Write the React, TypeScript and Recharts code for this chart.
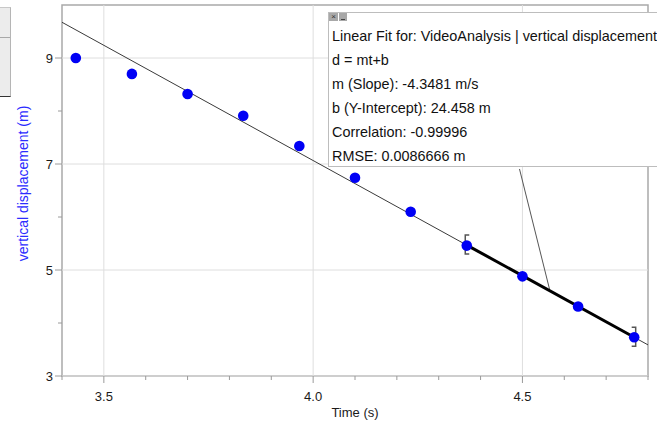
import React from "react";
import {
  ComposedChart,
  Scatter,
  XAxis,
  YAxis,
  ReferenceLine,
  ReferenceArea,
} from "recharts";

// measured positions (s) and vertical displacement (m)
const timeValues = [3.433, 3.567, 3.7, 3.833, 3.967, 4.1, 4.233, 4.367, 4.5, 4.633, 4.767];
const displacementValues = [9.0, 8.7, 8.32, 7.91, 7.34, 6.74, 6.1, 5.46, 4.88, 4.31, 3.73];

// linear fit line across the whole graph, and the fitted range
const fitLineT = [3.4, 4.8];
const fitLineD = [9.674, 3.587];
const fitRangeT = [4.367, 4.767];
const fitRangeD = [5.47, 3.73];

// leader from the fit box down to the line
const leaderT = [4.493, 4.565];
const leaderD = [6.906, 4.63];

const xTicks = [3.4, 3.5, 3.6, 3.7, 3.8, 3.9, 4.0, 4.1, 4.2, 4.3, 4.4, 4.5, 4.6, 4.7, 4.8];
const xMajor = [3.5, 4.0, 4.5];
const yTicks = [3, 4, 5, 6, 7, 8, 9];
const yMajor = [3, 5, 7, 9];

const fitLines = [
  "Linear Fit for: VideoAnalysis | vertical displacement",
  "d = mt+b",
  "m (Slope): -4.3481 m/s",
  "b (Y-Intercept): 24.458 m",
  "Correlation: -0.99996",
  "RMSE: 0.0086666 m",
];

const FONT = '"Liberation Sans", Arial, Helvetica, sans-serif';

const points = timeValues.map((t, i) => ({ t, d: displacementValues[i] }));
const fitLine = fitLineT.map((t, i) => ({ t, d: fitLineD[i] }));
const fitRange = fitRangeT.map((t, i) => ({ t, d: fitRangeD[i], side: i === 0 ? "left" : "right" }));

const near = (list: number[], v: number) => list.some((m) => Math.abs(m - v) < 1e-6);

const XTick = (props: any) => {
  const { x, y, payload } = props;
  const major = near(xMajor, payload.value);
  return (
    <g>
      <line x1={x} x2={x} y1={y} y2={y + (major ? 7 : 4)} stroke="#9a9a9a" strokeWidth={1} />
      {major && (
        <text x={x} y={y + 25} textAnchor="middle" fontSize={13} fill="#1a1a1a" fontFamily={FONT}>
          {payload.value.toFixed(1)}
        </text>
      )}
    </g>
  );
};

const YTick = (props: any) => {
  const { x, y, payload } = props;
  const major = near(yMajor, payload.value);
  return (
    <g>
      <line x1={x - (major ? 7 : 4)} x2={x} y1={y} y2={y} stroke="#9a9a9a" strokeWidth={1} />
      {major && (
        <text x={x - 9} y={y + 4.5} textAnchor="end" fontSize={13} fill="#1a1a1a" fontFamily={FONT}>
          {payload.value}
        </text>
      )}
    </g>
  );
};

const Dot = (props: any) => <circle cx={props.cx} cy={props.cy} r={5.3} fill="#0000f5" />;

const Bracket = (props: any) => {
  const { cx, cy, payload } = props;
  const left = payload.side === "left";
  const vx = left ? cx - 1.5 : cx + 1.5;
  const ex = left ? vx + 4 : vx - 4;
  return (
    <path
      d={`M${ex},${cy - 10} L${vx},${cy - 10} L${vx},${cy + 9} L${ex},${cy + 9}`}
      fill="none"
      stroke="#555"
      strokeWidth={1.5}
    />
  );
};

const NoShape = () => <g />;

export default function App() {
  return (
    <div
      style={{
        position: "absolute",
        left: 0,
        top: 0,
        width: 657,
        height: 423,
        overflow: "hidden",
        background: "#fff",
        fontFamily: FONT,
      }}
    >
      {/* side panel at the left edge */}
      <div
        style={{
          position: "absolute",
          left: 0,
          top: 7,
          width: 10,
          height: 88,
          background: "#ececec",
          borderTop: "1px solid #c8c8c8",
          borderRight: "1px solid #b5b5b5",
          borderBottom: "1.5px solid #333",
        }}
      >
        <div style={{ position: "absolute", left: 0, top: 29, width: 10, height: 1, background: "#a8a8a8" }} />
      </div>

      <ComposedChart width={657} height={423} margin={{ top: 5, right: 9, bottom: 0, left: 0 }}>
        <XAxis
          type="number"
          dataKey="t"
          domain={[3.4, 4.8]}
          ticks={xTicks}
          interval={0}
          allowDataOverflow
          height={47}
          tickSize={0}
          tickMargin={0}
          tickLine={false}
          axisLine={false}
          tick={<XTick />}
          label={{
            content: (p: any) => {
              const vb = p.viewBox;
              return (
                <text x={vb.x + vb.width / 2} y={vb.y + 41} textAnchor="middle" fontSize={13} fill="#1a1a1a" fontFamily={FONT}>
                  Time (s)
                </text>
              );
            },
          }}
        />
        <YAxis
          type="number"
          dataKey="d"
          domain={[3, 10]}
          ticks={yTicks}
          interval={0}
          allowDataOverflow
          width={62}
          tickSize={0}
          tickMargin={0}
          tickLine={false}
          axisLine={false}
          tick={<YTick />}
          label={{
            content: (p: any) => {
              const vb = p.viewBox;
              const cx = vb.x + 23;
              const cy = vb.y + vb.height / 2 - 7;
              return (
                <text
                  x={cx}
                  y={cy}
                  transform={`rotate(-90, ${cx}, ${cy})`}
                  textAnchor="middle"
                  dominantBaseline="central"
                  fontSize={14}
                  fill="#2b2bff"
                  fontFamily={FONT}
                >
                  vertical displacement (m)
                </text>
              );
            },
          }}
        />

        {xMajor.map((v) => (
          <ReferenceLine key={`gx${v}`} x={v} stroke="#dedede" strokeWidth={1} />
        ))}
        {yMajor.map((v) => (
          <ReferenceLine key={`gy${v}`} y={v} stroke="#dedede" strokeWidth={1} />
        ))}
        <ReferenceArea x1={3.4} x2={4.8} y1={3} y2={10} fill="none" stroke="#a9a9a9" strokeWidth={1.5} />

        <Scatter
          data={fitLine}
          line={{ stroke: "#3a3a3a", strokeWidth: 1 }}
          shape={<NoShape />}
          isAnimationActive={false}
        />
        <Scatter
          data={fitRange}
          line={{ stroke: "#000", strokeWidth: 3 }}
          shape={<Bracket />}
          isAnimationActive={false}
        />
        <ReferenceLine
          segment={[
            { x: leaderT[0], y: leaderD[0] },
            { x: leaderT[1], y: leaderD[1] },
          ]}
          stroke="#555"
          strokeWidth={1}
        />
        <Scatter data={points} shape={<Dot />} isAnimationActive={false} />
      </ComposedChart>

      {/* linear fit annotation box */}
      <div
        style={{
          position: "absolute",
          left: 328,
          top: 12,
          width: 360,
          height: 155,
          border: "1px solid #bdbdbd",
          background: "#fff",
          boxSizing: "border-box",
          paddingTop: 11,
          paddingLeft: 3,
          fontSize: 14.4,
          lineHeight: "24px",
          color: "#111",
          whiteSpace: "nowrap",
        }}
      >
        <div style={{ position: "absolute", left: 0, top: 0, display: "flex", gap: 1 }}>
          <div
            style={{
              width: 9,
              height: 8,
              background: "#a8a8a8",
              color: "#333",
              fontSize: 8,
              lineHeight: "8px",
              textAlign: "center",
            }}
          >
            ×
          </div>
          <div style={{ width: 8, height: 8, background: "#a8a8a8", position: "relative" }}>
            <div style={{ position: "absolute", left: 2, top: 6, width: 4, height: 1, background: "#444" }} />
          </div>
        </div>
        {fitLines.map((s) => (
          <div key={s}>{s}</div>
        ))}
      </div>
    </div>
  );
}
